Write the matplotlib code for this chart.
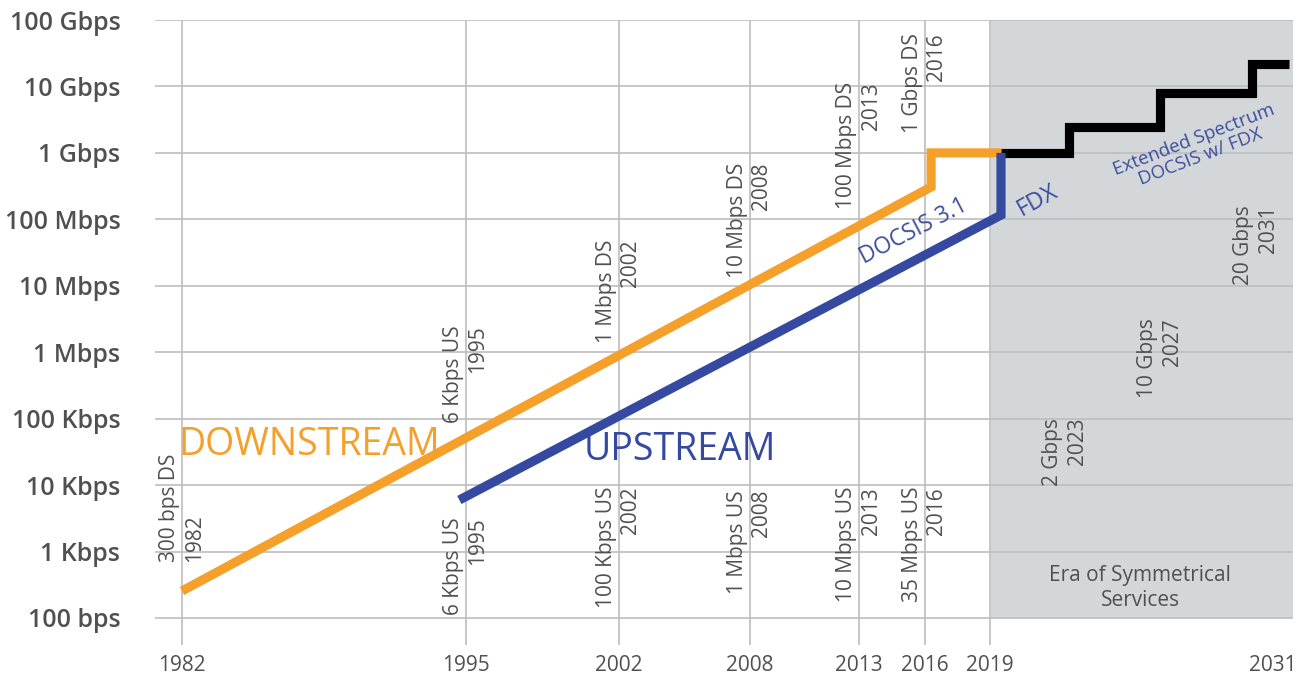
import numpy as np
import matplotlib
matplotlib.use("Agg")
import matplotlib.pyplot as plt
from matplotlib.ticker import FixedLocator, NullLocator

plt.rcParams['font.family'] = ['Open Sans', 'DejaVu Sans']

# ---------------- data ----------------
y_tick_values = [1e2, 1e3, 1e4, 1e5, 1e6, 1e7, 1e8, 1e9, 1e10, 1e11]
y_tick_labels = ["100 bps", "1 Kbps", "10 Kbps", "100 Kbps", "1 Mbps",
                 "10 Mbps", "100 Mbps", "1 Gbps", "10 Gbps", "100 Gbps"]
x_tick_years = [1982, 1995, 2002, 2008, 2013, 2016, 2019]
last_year_label = "2031"

downstream_years = [1982, 2016.3, 2016.3, 2019.5]
downstream_bps = [255, 3.07e8, 1e9, 1e9]

upstream_years = [1994.7, 2019.5, 2019.5]
upstream_bps = [5.97e3, 1.16e8, 1e9]

future_years = [2019.5, 2022.6, 2022.6, 2026.8, 2026.8, 2031.0, 2031.0, 2032.7]
future_bps = [1e9, 1e9, 2.46e9, 2.46e9, 7.9e9, 7.9e9, 2.2e10, 2.2e10]

era_start = 2019.05

# milestone labels: (text, year)
milestones_top = [
    ("6 Kbps US\n1995", 1995),
    ("1 Mbps DS\n2002", 2002),
    ("10 Mbps DS\n2008", 2008),
    ("100 Mbps DS\n2013", 2013),
    ("1 Gbps DS\n2016", 2016),
]
milestones_bottom = [
    ("6 Kbps US\n1995", 1995),
    ("100 Kbps US\n2002", 2002),
    ("1 Mbps US\n2008", 2008),
    ("10 Mbps US\n2013", 2013),
    ("35 Mbps US\n2016", 2016),
]
milestone_first = ("300 bps DS\n1982", 1982)
milestones_future = ["2 Gbps\n2023", "10 Gbps\n2027", "20 Gbps\n2031"]

# ---------------- style ----------------
W, H = 1311, 676
ORANGE = "#F5A02A"
BLUE = "#3549A0"
TEXTBLUE = "#3C4E9E"
GRID = "#BDBDBD"
SHADE = "#D4D7DA"
TXT = "#505050"

fig = plt.figure(figsize=(W / 100, H / 100), dpi=100)
ax = fig.add_axes([155 / W, 1 - 645 / H, (1293 - 155) / W, (645 - 20) / H])

# pixel -> data helpers for layout of annotations
PX_PER_YEAR = 21.84
PX_PER_DEC = 66.44
def xv(px):
    return 1982 + (px - 182) / PX_PER_YEAR
def yv(py):
    return 10 ** (2 + (618 - py) / PX_PER_DEC)

ax.set_yscale('log')
ax.set_xlim(xv(155), xv(1293))
ax.set_ylim(yv(645), 1e11)

for s in ax.spines.values():
    s.set_visible(False)

# shaded era region
ax.fill_between([era_start, xv(1293)], 1e2, 1e11, color=SHADE, lw=0, zorder=0.5)

# gridlines
for v in y_tick_values:
    ax.axhline(v, color=GRID, lw=1.2, zorder=1)
for yr in x_tick_years:
    ax.axvline(yr, ymax=1.0, color=GRID, lw=1.2, zorder=1)

# lines
lw = 6.6
ax.plot(downstream_years, downstream_bps, color=ORANGE, lw=lw, zorder=3,
        solid_joinstyle='miter', solid_capstyle='butt')
ax.plot(future_years, future_bps, color="black", lw=lw, zorder=3,
        solid_joinstyle='miter', solid_capstyle='butt')
ax.plot(upstream_years, upstream_bps, color=BLUE, lw=lw, zorder=4,
        solid_joinstyle='miter', solid_capstyle='butt')

# ticks
ax.yaxis.set_major_locator(FixedLocator(y_tick_values))
ax.yaxis.set_minor_locator(NullLocator())
ax.set_yticklabels(y_tick_labels, fontsize=18, fontweight='semibold', color=TXT)
ax.tick_params(axis='y', length=0, pad=25)
ax.set_xticks(x_tick_years)
ax.set_xticklabels([str(y) for y in x_tick_years], fontsize=15, color=TXT)
ax.tick_params(axis='x', length=0, pad=7)
ax.annotate(last_year_label, xy=(1.003, 0), xycoords='axes fraction',
            xytext=(0, -7), textcoords='offset points', ha='right', va='top',
            fontsize=15, color=TXT)

# milestone annotations
afs = 15
ls = 1.2
ax.text(milestone_first[1], yv(562), milestone_first[0], rotation=90, ha='center',
        va='bottom', multialignment='left', fontsize=afs, color=TXT, linespacing=ls, zorder=5)
top_px = [325, 240, 163, 82, 33]
for (t, yr), py in zip(milestones_top, top_px):
    ax.text(yr, yv(py), t, rotation=90, ha='center', va='top', multialignment='right',
            fontsize=afs, color=TXT, linespacing=ls, zorder=5)
bot_px = [517, 487, 490, 487, 487]
for (t, yr), py in zip(milestones_bottom, bot_px):
    ax.text(yr, yv(py), t, rotation=90, ha='center', va='top', multialignment='right',
            fontsize=afs, color=TXT, linespacing=ls, zorder=5)
fut_pos = [(1065, 418), (1160, 318), (1256, 205)]
for t, (px, py) in zip(milestones_future, fut_pos):
    ax.text(xv(px), yv(py), t, rotation=90, ha='center', va='top', multialignment='right',
            fontsize=afs, color=TXT, linespacing=ls, zorder=5)

# series labels
ax.text(xv(178), yv(455), "DOWNSTREAM", color=ORANGE, fontsize=27, ha='left',
        va='baseline', zorder=5)
ax.text(xv(584), yv(460), "UPSTREAM", color=BLUE, fontsize=27, ha='left',
        va='baseline', zorder=5)

ax.text(xv(914), yv(231), "DOCSIS 3.1", color=TEXTBLUE, fontsize=16.5, rotation=27.5,
        rotation_mode='anchor', ha='center', va='center', zorder=5)
ax.text(xv(1038), yv(200), "FDX", color=TEXTBLUE, fontsize=17, rotation=29,
        rotation_mode='anchor', ha='center', va='center', zorder=5)
ax.text(xv(1197), yv(148), "Extended Spectrum\nDOCSIS w/ FDX", color=TEXTBLUE,
        fontsize=13.5, rotation=21, rotation_mode='anchor', ha='center', va='center',
        linespacing=1.0, zorder=5)
ax.text(xv(1140), yv(588), "Era of Symmetrical\nServices", color=TXT, fontsize=15,
        ha='center', va='center', linespacing=1.3, zorder=5)

fig.savefig("out.png", dpi=100)
